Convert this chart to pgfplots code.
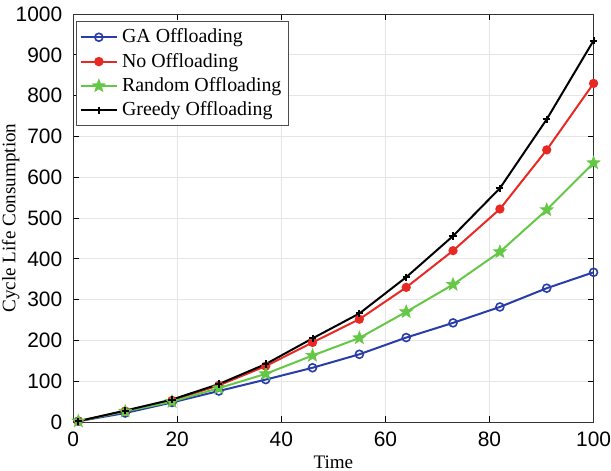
\documentclass[border=0pt]{standalone}
\usepackage{fontspec}
\setmainfont{Liberation Serif}
\newfontfamily\tickfont{Liberation Sans}
\usepackage{pgfplots}
\pgfplotsset{compat=1.18}
\definecolor{cblue}{RGB}{40,60,170}
\definecolor{cred}{RGB}{232,40,35}
\definecolor{cgreen}{RGB}{100,200,70}
\pgfdeclareplotmark{fstar}{%
  \pgfpathmoveto{\pgfqpointpolar{90}{\pgfplotmarksize}}%
  \pgfpathlineto{\pgfqpointpolar{126}{0.42\pgfplotmarksize}}%
  \pgfpathlineto{\pgfqpointpolar{162}{\pgfplotmarksize}}%
  \pgfpathlineto{\pgfqpointpolar{198}{0.42\pgfplotmarksize}}%
  \pgfpathlineto{\pgfqpointpolar{234}{\pgfplotmarksize}}%
  \pgfpathlineto{\pgfqpointpolar{270}{0.42\pgfplotmarksize}}%
  \pgfpathlineto{\pgfqpointpolar{306}{\pgfplotmarksize}}%
  \pgfpathlineto{\pgfqpointpolar{342}{0.42\pgfplotmarksize}}%
  \pgfpathlineto{\pgfqpointpolar{18}{\pgfplotmarksize}}%
  \pgfpathlineto{\pgfqpointpolar{54}{0.42\pgfplotmarksize}}%
  \pgfpathclose
  \pgfusepathqfillstroke}
\begin{document}
\begin{tikzpicture}
\begin{axis}[
  scale only axis,
  width=261.5pt, height=205pt,
  xmin=0, xmax=100, ymin=0, ymax=1000,
  xtick={0,20,40,60,80,100},
  ytick={0,100,200,300,400,500,600,700,800,900,1000},
  grid=major,
  major grid style={gray!20, line width=0.4pt},
  tick align=inside,
  tick style={black, line width=0.4pt},
  major tick length=3pt,
  axis line style={line width=0.5pt, black!80},
  /pgf/number format/assume math mode=true,
  ticklabel style={font=\tickfont\fontsize{10.5}{12}\selectfont},
  yticklabel style={xshift=-2pt},
  xticklabel style={yshift=-1.5pt, inner xsep=0pt},
  scaled ticks=false,
  /pgf/number format/1000 sep={},
  xlabel={Time}, ylabel={Cycle Life Consumption},
  label style={font=\fontsize{9.6}{11}\selectfont, inner sep=1pt},
  xlabel style={yshift=0pt},
  ylabel style={yshift=-6.5pt},
  legend style={at={(0.006,0.982)}, anchor=north west, font=\fontsize{10}{12}\selectfont,
    draw=black!70, inner sep=1.5pt, row sep=-0.3pt, legend cell align=left},
  legend image code/.code={\draw[#1, line width=1.1pt, mark repeat=2, mark phase=2] plot coordinates {(0cm,0cm) (0.32cm,0cm) (0.64cm,0cm)};},
]
\addplot[color=cblue, line width=1pt, mark=o, mark size=2pt, mark options={line width=0.8pt}] coordinates {
(1,2) (10,22) (19,48) (28,76) (37,104) (46,133) (55,166) (64,207) (73,243) (82,282) (91,328) (100,367)};
\addlegendentry{GA Offloading}
\addplot[color=cred, line width=1pt, mark=*, mark size=1.8pt] coordinates {
(1,2) (10,27) (19,53) (28,90) (37,137) (46,195) (55,252) (64,330) (73,420) (82,522) (91,667) (100,830)};
\addlegendentry{No Offloading}
\addplot[color=cgreen, line width=1pt, mark=fstar, mark size=3.3pt, mark options={line width=0.4pt, fill=cgreen}] coordinates {
(1,2) (10,26) (19,50) (28,83) (37,118) (46,163) (55,206) (64,270) (73,337) (82,417) (91,520) (100,635)};
\addlegendentry{Random Offloading}
\addplot[color=black, line width=1pt, mark=+, mark size=1.8pt, mark options={line width=1pt}] coordinates {
(1,2) (10,28) (19,55) (28,93) (37,142) (46,205) (55,266) (64,355) (73,456) (82,573) (91,742) (100,935)};
\addlegendentry{Greedy Offloading}
\end{axis}
\end{tikzpicture}
\end{document}
